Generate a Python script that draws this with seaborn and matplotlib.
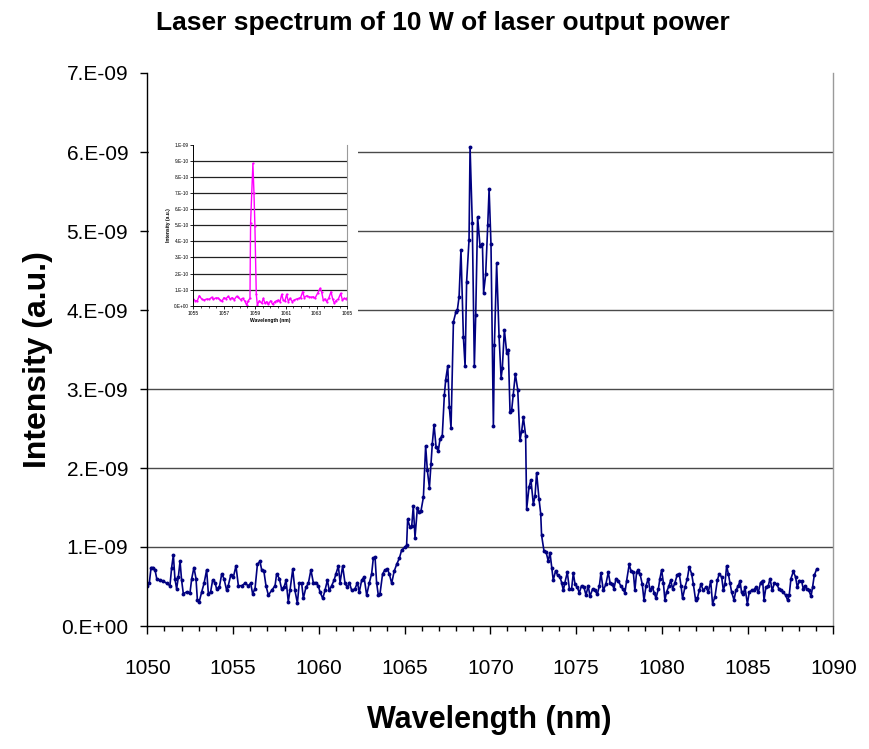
import numpy as np
import pandas as pd
import matplotlib
matplotlib.use("Agg")
import matplotlib.pyplot as plt
import seaborn as sns
from matplotlib.patches import Rectangle
from matplotlib.ticker import MultipleLocator

# ---------------- data ----------------
# main spectrum: wavelength (nm) and intensity in units of 1e-9 a.u.
wavelength_main = [
    1050.00, 1050.12, 1050.22, 1050.35, 1050.45, 1050.55, 1050.74, 1050.93, 1051.13, 1051.32,
    1051.42, 1051.52, 1051.61, 1051.71, 1051.81, 1051.91, 1052.00, 1052.10, 1052.29, 1052.49,
    1052.59, 1052.72, 1052.84, 1052.92, 1053.03, 1053.17, 1053.31, 1053.46, 1053.56, 1053.69,
    1053.81, 1053.95, 1054.04, 1054.20, 1054.34, 1054.47, 1054.63, 1054.72, 1054.86, 1055.02,
    1055.17, 1055.31, 1055.50, 1055.70, 1055.89, 1056.03, 1056.14, 1056.28, 1056.42, 1056.57,
    1056.67, 1056.80, 1056.92, 1057.06, 1057.25, 1057.45, 1057.54, 1057.70, 1057.83, 1057.97,
    1058.09, 1058.22, 1058.32, 1058.48, 1058.61, 1058.75, 1058.86, 1059.00, 1059.10, 1059.25,
    1059.39, 1059.54, 1059.68, 1059.84, 1059.97, 1060.07, 1060.23, 1060.36, 1060.50, 1060.61,
    1060.75, 1060.89, 1061.00, 1061.14, 1061.24, 1061.39, 1061.53, 1061.66, 1061.78, 1061.92,
    1062.11, 1062.25, 1062.36, 1062.50, 1062.64, 1062.79, 1062.95, 1063.08, 1063.18, 1063.28,
    1063.37, 1063.47, 1063.57, 1063.72, 1063.86, 1064.00, 1064.11, 1064.25, 1064.39, 1064.54,
    1064.70, 1064.83, 1065.03, 1065.12,
    1065.18, 1065.32, 1065.42, 1065.51, 1065.61, 1065.75, 1065.86, 1065.96, 1066.10, 1066.23,
    1066.33, 1066.45, 1066.54, 1066.62, 1066.72, 1066.84, 1066.97, 1067.07, 1067.20, 1067.32,
    1067.40, 1067.52, 1067.61, 1067.71, 1067.85, 1068.00, 1068.08, 1068.18, 1068.29, 1068.43,
    1068.53, 1068.62, 1068.76, 1068.82, 1068.95, 1069.07, 1069.15, 1069.26, 1069.40, 1069.54,
    1069.61, 1069.73, 1069.85, 1069.93, 1070.04, 1070.18, 1070.24, 1070.37, 1070.51, 1070.63,
    1070.70, 1070.82, 1070.96, 1071.05, 1071.15, 1071.25, 1071.34, 1071.46, 1071.60, 1071.73,
    1071.83, 1071.93, 1072.06, 1072.12, 1072.26, 1072.37, 1072.51, 1072.61, 1072.70, 1072.84,
    1072.94,
    1072.99, 1073.13, 1073.25, 1073.38, 1073.48, 1073.58, 1073.67, 1073.81, 1073.93, 1074.06,
    1074.16, 1074.26, 1074.35, 1074.49, 1074.61, 1074.74, 1074.84, 1074.94, 1075.07, 1075.19,
    1075.32, 1075.46, 1075.58, 1075.71, 1075.81, 1075.97, 1076.10, 1076.24, 1076.36, 1076.45,
    1076.59, 1076.74, 1076.88, 1076.98, 1077.11, 1077.21, 1077.33, 1077.46, 1077.60, 1077.72,
    1077.85, 1077.95, 1078.10, 1078.20, 1078.34, 1078.43, 1078.53, 1078.63, 1078.73, 1078.86,
    1078.96, 1079.08, 1079.21, 1079.31, 1079.45, 1079.56, 1079.66, 1079.80, 1079.89, 1079.99,
    1080.09, 1080.18, 1080.28, 1080.42, 1080.52, 1080.63, 1080.77, 1080.90, 1081.02, 1081.12,
    1081.21, 1081.35, 1081.49, 1081.60, 1081.74, 1081.84, 1081.97, 1082.07, 1082.19, 1082.28,
    1082.42, 1082.57, 1082.71, 1082.85, 1082.96, 1083.10, 1083.24, 1083.35, 1083.49, 1083.59,
    1083.68, 1083.78, 1083.88, 1083.97, 1084.07, 1084.21, 1084.32, 1084.46, 1084.56, 1084.65,
    1084.75, 1084.85, 1084.99, 1085.10, 1085.24, 1085.37, 1085.49, 1085.63, 1085.76, 1085.88,
    1085.96, 1086.07, 1086.21, 1086.31, 1086.44, 1086.56, 1086.70, 1086.83, 1086.95, 1087.08,
    1087.22, 1087.34, 1087.43, 1087.53, 1087.67, 1087.80, 1087.90, 1088.02, 1088.15, 1088.25,
    1088.35, 1088.44, 1088.58, 1088.70, 1088.79, 1088.89, 1089.03,
]
intensity_main_e9 = [
    0.51, 0.55, 0.74, 0.74, 0.71, 0.60, 0.58, 0.57, 0.54, 0.51,
    0.74, 0.90, 0.60, 0.47, 0.62, 0.82, 0.58, 0.41, 0.43, 0.42,
    0.60, 0.74, 0.60, 0.33, 0.31, 0.43, 0.54, 0.71, 0.41, 0.43,
    0.58, 0.55, 0.47, 0.49, 0.66, 0.60, 0.45, 0.51, 0.64, 0.62,
    0.76, 0.51, 0.51, 0.54, 0.51, 0.54, 0.41, 0.47, 0.78, 0.82,
    0.71, 0.69, 0.51, 0.39, 0.45, 0.51, 0.66, 0.60, 0.47, 0.49,
    0.58, 0.31, 0.45, 0.72, 0.45, 0.29, 0.54, 0.54, 0.35, 0.49,
    0.54, 0.71, 0.55, 0.55, 0.51, 0.43, 0.35, 0.45, 0.58, 0.45,
    0.51, 0.58, 0.66, 0.76, 0.55, 0.76, 0.54, 0.49, 0.55, 0.45,
    0.47, 0.55, 0.43, 0.58, 0.62, 0.39, 0.55, 0.66, 0.86, 0.87,
    0.55, 0.39, 0.41, 0.66, 0.71, 0.72, 0.66, 0.54, 0.69, 0.78,
    0.86, 0.96, 1.00, 1.02,
    1.35, 1.25, 1.27, 1.52, 1.12, 1.50, 1.44, 1.46, 1.63, 2.28,
    1.97, 1.75, 2.05, 2.31, 2.55, 2.26, 2.22, 2.37, 2.41, 2.92,
    3.12, 3.29, 2.77, 2.51, 3.85, 3.98, 4.00, 4.17, 4.76, 3.66,
    3.29, 4.36, 4.89, 6.06, 5.10, 3.29, 3.94, 5.18, 4.81, 4.84,
    4.22, 4.45, 5.07, 5.53, 4.83, 2.53, 3.56, 4.59, 3.67, 3.14,
    3.26, 3.75, 3.45, 3.50, 2.71, 2.74, 2.93, 3.19, 2.99, 2.35,
    2.47, 2.64, 2.41, 1.48, 1.76, 1.85, 1.54, 1.65, 1.94, 1.61,
    1.42,
    1.15, 0.95, 0.94, 0.82, 0.93, 0.74, 0.58, 0.70, 0.64, 0.62,
    0.55, 0.45, 0.55, 0.68, 0.47, 0.47, 0.67, 0.53, 0.49, 0.42,
    0.51, 0.49, 0.39, 0.51, 0.375, 0.47, 0.45, 0.40, 0.51, 0.67,
    0.45, 0.53, 0.68, 0.55, 0.53, 0.47, 0.60, 0.575, 0.51, 0.47,
    0.42, 0.575, 0.78, 0.70, 0.68, 0.45, 0.68, 0.71, 0.66, 0.53,
    0.325, 0.51, 0.60, 0.45, 0.49, 0.42, 0.35, 0.47, 0.60, 0.71,
    0.55, 0.33, 0.43, 0.51, 0.58, 0.47, 0.55, 0.65, 0.66, 0.51,
    0.35, 0.49, 0.60, 0.75, 0.66, 0.53, 0.33, 0.35, 0.45, 0.53,
    0.45, 0.49, 0.43, 0.57, 0.28, 0.37, 0.58, 0.66, 0.62, 0.45,
    0.53, 0.76, 0.66, 0.55, 0.43, 0.33, 0.45, 0.51, 0.57, 0.43,
    0.40, 0.49, 0.28, 0.43, 0.45, 0.46, 0.49, 0.43, 0.55, 0.575,
    0.33, 0.49, 0.51, 0.60, 0.45, 0.54, 0.53, 0.47, 0.45, 0.43,
    0.39, 0.325, 0.39, 0.60, 0.69, 0.62, 0.49, 0.575, 0.57, 0.47,
    0.51, 0.47, 0.45, 0.375, 0.49, 0.64, 0.72,
]

# inset spectrum: wavelength (nm) and intensity in units of 1e-10 a.u.
wavelength_inset = [
    1055.00, 1055.13, 1055.26, 1055.39, 1055.54, 1055.69, 1055.87, 1056.04, 1056.19, 1056.30,
    1056.45, 1056.60, 1056.73, 1056.86, 1056.99, 1057.12, 1057.27, 1057.38, 1057.53, 1057.66,
    1057.81, 1057.92, 1058.07, 1058.20, 1058.35, 1058.46, 1058.57, 1058.68, 1058.72, 1058.87,
    1058.94, 1059.00, 1059.09, 1059.16, 1059.29, 1059.44, 1059.55, 1059.65, 1059.76, 1059.87,
    1060.02, 1060.15, 1060.30, 1060.41, 1060.52, 1060.63, 1060.74, 1060.84, 1060.95, 1061.06,
    1061.17, 1061.28, 1061.43, 1061.54, 1061.71, 1061.86, 1061.97, 1062.10, 1062.21, 1062.36,
    1062.51, 1062.66, 1062.79, 1062.90, 1063.07, 1063.23, 1063.33, 1063.44, 1063.55, 1063.66,
    1063.81, 1063.94, 1064.05, 1064.16, 1064.26, 1064.42, 1064.57, 1064.68, 1064.81, 1064.91,
    1065.00,
]
intensity_inset_e10 = [
    0.42, 0.31, 0.31, 0.62, 0.42, 0.35, 0.42, 0.40, 0.52, 0.40,
    0.48, 0.48, 0.375, 0.27, 0.50, 0.44, 0.58, 0.42, 0.50, 0.375,
    0.58, 0.52, 0.375, 0.46, 0.29, 0.04, 0.31, 0.46, 5.15, 8.85,
    7.00, 4.98, 0.71, 0.04, 0.31, 0.15, 0.46, 0.15, 0.25, 0.08,
    0.31, 0.08, 0.25, 0.31, 0.35, 0.25, 0.71, 0.35, 0.29, 0.71,
    0.25, 0.46, 0.25, 0.35, 0.42, 0.46, 0.50, 0.87, 0.50, 0.62,
    0.56, 0.52, 0.56, 0.46, 0.77, 1.08, 0.87, 0.35, 0.42, 0.25,
    0.50, 0.87, 0.42, 0.15, 0.31, 0.42, 0.77, 0.35, 0.46, 0.42,
    0.50,
]

main_xticks = [1050, 1055, 1060, 1065, 1070, 1075, 1080, 1085, 1090]
main_yticks_e9 = [0, 1, 2, 3, 4, 5, 6, 7]
main_ytick_labels = ["0.E+00", "1.E-09", "2.E-09", "3.E-09", "4.E-09",
                     "5.E-09", "6.E-09", "7.E-09"]
inset_xticks = [1055, 1057, 1059, 1061, 1063, 1065]
inset_yticks_e10 = [0, 1, 2, 3, 4, 5, 6, 7, 8, 9, 10]
inset_ytick_labels = ["0.E+00", "1.E-10", "2.E-10", "3.E-10", "4.E-10", "5.E-10",
                      "6.E-10", "7.E-10", "8.E-10", "9.E-10", "1.E-09"]

title_text = "Laser spectrum of 10 W of laser output power"
xlabel_text = "Wavelength (nm)"
ylabel_text = "Intensity (a.u.)"

# ---------------- styling ----------------
sns.set_style("white")
plt.rcParams["font.family"] = ["Liberation Sans", "DejaVu Sans"]
plt.rcParams["text.color"] = "black"
plt.rcParams["axes.labelcolor"] = "black"
plt.rcParams["xtick.color"] = "black"
plt.rcParams["ytick.color"] = "black"

W, H = 869, 749
fig = plt.figure(figsize=(W / 100, H / 100), dpi=100)

def fx(px):
    return px / W

def fy(py):
    return 1 - py / H

# main axes
ax = fig.add_axes([fx(147.3), fy(626), fx(833.3) - fx(147.3), fy(73) - fy(626)])
n = min(len(wavelength_main), len(intensity_main_e9))
df_main = pd.DataFrame({
    "wavelength": wavelength_main[:n],
    "intensity": np.array(intensity_main_e9[:n]) * 1e-9,
})
sns.lineplot(data=df_main, x="wavelength", y="intensity", ax=ax, sort=False,
             estimator=None, color="#000080", linewidth=1.2, marker="o",
             markersize=2.8, markeredgewidth=0)

ax.set_xlim(1050, 1090)
ax.set_ylim(0, 7e-9)
ax.set_xticks(main_xticks)
ax.set_xticklabels([str(t) for t in main_xticks], fontsize=15, color="black")
ax.xaxis.set_minor_locator(MultipleLocator(1))
yt = [v * 1e-9 for v in main_yticks_e9]
ax.set_yticks(yt)
ax.set_yticklabels(main_ytick_labels, fontsize=15, color="black")
ax.set_xlabel("")
ax.set_ylabel("")
ax.tick_params(axis="x", which="major", direction="out", length=6, width=1,
               color="black", pad=18, bottom=True)
ax.tick_params(axis="x", which="minor", direction="out", length=3.5, width=1,
               color="black", bottom=True)
ax.tick_params(axis="y", which="major", direction="out", length=4.8, width=1,
               color="black", pad=9, left=True)
ax.grid(axis="y", color="#4a4a4a", linewidth=1.0)
ax.grid(axis="x", visible=False)
gl = ax.yaxis.get_gridlines()
gl[0].set_visible(False)
gl[-1].set_visible(False)
for side in ["left", "bottom"]:
    ax.spines[side].set_color("black")
    ax.spines[side].set_linewidth(1.0)
ax.spines["top"].set_visible(False)
ax.spines["right"].set_color("#9a9a9a")
ax.spines["right"].set_linewidth(1.0)
ax.set_zorder(0)

# white block behind the inset
fig.patches.append(Rectangle((fx(149), fy(332)), fx(358) - fx(149), fy(138) - fy(332),
                             transform=fig.transFigure, facecolor="white",
                             edgecolor="none", zorder=1))

# inset axes
axi = fig.add_axes([fx(193.3), fy(305.7), fx(347.3) - fx(193.3), fy(145) - fy(305.7)])
axi.set_zorder(2)
m = min(len(wavelength_inset), len(intensity_inset_e10))
df_inset = pd.DataFrame({
    "wavelength": wavelength_inset[:m],
    "intensity": np.array(intensity_inset_e10[:m]) * 1e-10,
})
sns.lineplot(data=df_inset, x="wavelength", y="intensity", ax=axi, sort=False,
             estimator=None, color="#FF00FF", linewidth=1.0, marker="o",
             markersize=1.6, markeredgewidth=0)
axi.set_xlim(1055, 1065)
axi.set_ylim(0, 1e-9)
axi.set_xticks(inset_xticks)
axi.set_xticklabels([str(t) for t in inset_xticks], fontsize=3.6, color="black")
axi.xaxis.set_minor_locator(MultipleLocator(0.5))
axi.set_yticks([v * 1e-10 for v in inset_yticks_e10])
axi.set_yticklabels(inset_ytick_labels, fontsize=3.4, color="black")
axi.set_xlabel(xlabel_text, fontsize=3.6, fontweight="bold", labelpad=2, color="black")
axi.set_ylabel(ylabel_text, fontsize=3.6, fontweight="bold", labelpad=2, color="black")
axi.tick_params(axis="both", which="major", direction="out", length=2, width=0.6,
                pad=1.5, bottom=True, left=True, color="black")
axi.tick_params(axis="x", which="minor", direction="out", length=1.2, width=0.5,
                bottom=True, color="black")
axi.grid(axis="y", color="#222222", linewidth=0.9)
axi.grid(axis="x", visible=False)
gli = axi.yaxis.get_gridlines()
gli[0].set_visible(False)
gli[-1].set_visible(False)
axi.spines["top"].set_visible(False)
axi.spines["right"].set_color("#9a9a9a")
axi.spines["right"].set_linewidth(0.8)
axi.spines["left"].set_color("black")
axi.spines["bottom"].set_color("black")
axi.spines["left"].set_linewidth(0.7)
axi.spines["bottom"].set_linewidth(0.7)
axi.set_facecolor("white")

# titles / labels
fig.text(fx(443), fy(23), title_text, ha="center", va="center",
         fontsize=19, fontweight="bold", color="black")
fig.text(fx(489), fy(720), xlabel_text, ha="center", va="center",
         fontsize=22, fontweight="bold", color="black")
fig.text(fx(38), fy(360), ylabel_text, ha="center", va="center", rotation=90,
         fontsize=23, fontweight="bold", color="black")

fig.savefig("out.png", dpi=100, facecolor="white")
